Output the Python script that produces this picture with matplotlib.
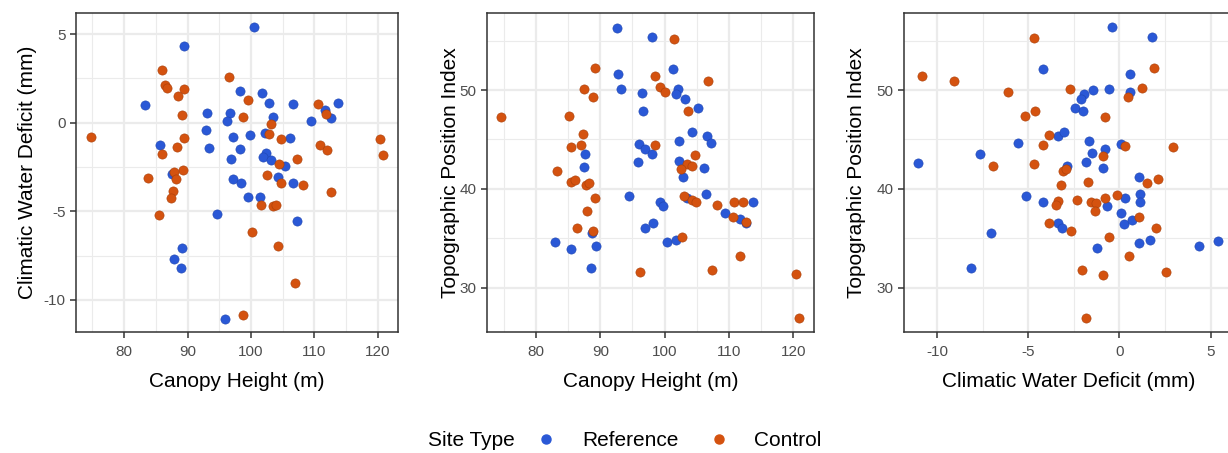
#!/usr/bin/env python3
"""
Site covariates: canopy height, climatic water deficit and topographic
position index for reference vs. control sites (three pairwise scatters).
"""

import matplotlib.pyplot as plt
from matplotlib.lines import Line2D
from matplotlib.ticker import MultipleLocator

plt.rcParams["font.family"] = ["Liberation Sans", "DejaVu Sans"]
plt.rcParams["axes.unicode_minus"] = False

REF_COLOR = "#2A58D6"
CTRL_COLOR = "#D4520F"

# Canopy height (m) vs climatic water deficit (mm)
ref_height_a = [89.4, 83.3, 85.6, 93.0, 92.85, 93.4, 89.1, 87.9, 89.0, 87.5,
                100.5, 98.2, 101.8, 102.85, 106.6, 113.8, 96.7, 96.2, 103.5, 111.7,
                112.6, 109.4, 97.2, 99.9, 102.2, 106.1, 98.2, 96.8, 102.4, 101.9,
                103.2, 105.4, 97.2, 98.4, 104.3, 106.7, 99.5, 101.45, 94.7, 107.2, 95.96]
ref_cwd_a = [4.33, 1.02, -1.24, 0.56, -0.43, -1.45, -7.09, -7.67, -8.18, -2.9,
             5.4, 1.79, 1.68, 1.09, 1.07, 1.13, 0.56, 0.08, 0.32, 0.7,
             0.25, 0.08, -0.82, -0.71, -0.58, -0.86, -1.5, -2.03, -1.69, -1.95,
             -2.12, -2.44, -3.19, -3.4, -3.04, -3.4, -4.19, -4.17, -5.17, -5.54, -11.09]
ctrl_height_a = [74.8, 85.9, 86.4, 86.8, 89.5, 88.5, 89.2, 89.5, 88.3, 85.95,
                 83.7, 89.3, 87.9, 88.2, 87.7, 87.35, 85.5,
                 96.5, 99.5, 98.7, 110.5, 111.8, 103.2, 102.85, 104.8, 110.9,
                 112.0, 120.3, 120.8, 107.3, 104.35, 102.6, 104.8, 108.2, 112.6,
                 101.55, 103.5, 104.0, 100.2, 104.25, 106.9, 98.7]
ctrl_cwd_a = [-0.81, 2.97, 2.13, 1.98, 1.88, 1.49, 0.45, -0.84, -1.37, -1.75,
              -3.1, -2.67, -2.76, -3.19, -3.85, -4.23, -5.21,
              2.58, 1.26, 0.32, 1.05, 0.5, -0.05, -0.62, -0.94, -1.26,
              -1.56, -0.9, -1.84, -2.03, -2.35, -2.95, -3.38, -3.5, -3.91,
              -4.66, -4.68, -4.64, -6.15, -6.94, -9.08, -10.88]

# Canopy height (m) vs topographic position index
ref_height_b = [87.7, 87.5, 82.9, 85.4, 88.7, 89.3, 88.6,
                92.65, 98.0, 92.8, 101.35, 93.2, 96.5, 96.6, 102.1, 101.75, 103.1,
                105.2, 104.2, 106.5, 107.2, 102.2, 96.0, 97.0, 98.0, 95.8, 102.3,
                106.05, 102.8, 94.5, 106.4, 103.4, 99.2, 99.7, 109.3, 111.75, 113.8,
                112.6, 98.2, 97.0, 100.3, 101.75]
ref_tpi_b = [43.5, 42.2, 34.6, 33.9, 35.5, 34.2, 32.0,
             56.3, 55.4, 51.6, 52.1, 50.06, 49.7, 47.9, 50.1, 49.56, 49.1,
             48.15, 45.8, 45.3, 44.6, 44.8, 44.55, 43.98, 43.5, 42.7, 42.8,
             42.06, 41.2, 39.24, 39.5, 39.1, 38.7, 38.27, 37.5, 36.9, 38.64,
             36.55, 36.5, 35.99, 34.64, 34.84]
ctrl_height_b = [74.5, 89.2, 87.5, 88.9, 85.1, 87.3, 87.0, 85.45, 83.3, 85.5,
                 86.0, 87.8, 88.2, 89.2, 87.9, 86.4, 88.9,
                 101.45, 98.55, 106.8, 99.3, 100.05, 103.7, 98.55, 104.65, 103.4,
                 104.25, 102.6, 103.0, 104.25, 104.8, 108.1, 110.8, 112.1, 110.55,
                 112.6, 102.75, 111.75, 96.2, 107.3, 120.4, 120.9]
ctrl_tpi_b = [47.3, 52.2, 50.1, 49.3, 47.4, 45.5, 44.45, 44.2, 41.8, 40.7,
              40.9, 40.4, 40.6, 39.1, 37.8, 36.05, 35.75,
              55.2, 51.44, 50.9, 50.27, 49.8, 47.85, 44.4, 43.4, 42.5,
              42.3, 42.0, 39.3, 38.9, 38.7, 38.34, 38.64, 38.7, 37.1,
              36.6, 35.1, 33.2, 31.6, 31.75, 31.35, 26.9]

# Climatic water deficit (mm) vs topographic position index
ref_cwd_c = [-11.04, -7.64, -5.58, -7.05, -8.17,
             -0.4, 1.8, -4.18, 0.55, -0.6, -1.43, -1.94, -2.12, 0.59, -2.43,
             -2.0, -3.35, -3.04, -1.68, -0.8, 0.06, -1.52, -1.81, -2.89, -0.88,
             1.08, -5.14, -4.18, 0.33, 1.1, 1.14, -0.69, 0.08, 0.27, 0.68,
             -3.38, -3.16, -1.22, 1.05, 1.69, 4.34, 5.39]
ref_tpi_c = [42.64, 43.5, 44.6, 35.5, 31.96,
             56.4, 55.4, 52.1, 51.6, 50.1, 50.0, 49.6, 49.1, 49.76, 48.15,
             47.9, 45.3, 45.8, 44.8, 44.05, 44.55, 43.6, 42.7, 42.27, 42.07,
             41.2, 39.24, 38.67, 39.04, 39.5, 38.64, 38.27, 37.5, 36.42, 36.8,
             36.55, 36.0, 33.97, 34.54, 34.8, 34.2, 34.7]
ctrl_cwd_c = [-10.84, -9.07, -6.13, -6.92,
              -4.67, 1.87, -2.73, 1.26, 0.48, -4.62, -5.2, -0.79, -3.85, -4.19,
              0.33, 2.93, -0.91, -4.67, -3.08, -2.95, -1.74, 1.5, 2.14, -3.2,
              -0.11, -0.8, -2.32, -1.55, -1.28, -3.35, -3.48, -1.37, 1.07, -3.88,
              -2.67, 1.98, -0.6, 0.52, -2.03, -0.91, 2.57, -1.83]
ctrl_tpi_c = [51.44, 50.87, 49.76, 42.3,
              55.24, 52.2, 50.1, 50.23, 49.3, 47.88, 47.4, 47.28, 45.46, 44.42,
              44.35, 44.2, 43.35, 42.54, 41.8, 42.0, 40.73, 40.62, 40.96, 40.4,
              39.34, 39.1, 38.87, 38.7, 38.6, 38.77, 38.37, 37.76, 37.1, 36.55,
              35.75, 36.05, 35.08, 33.2, 31.75, 31.31, 31.58, 26.9]

HEIGHT_LIM = (72.4, 123.2)
CWD_LIM = (-11.82, 6.2)
TPI_LIM = (25.5, 57.8)


def style_axes(ax, xmajor, ymajor):
    """theme_bw-like look: light grid, dark border, outward ticks."""
    ax.set_facecolor("white")
    ax.xaxis.set_major_locator(MultipleLocator(xmajor))
    ax.xaxis.set_minor_locator(MultipleLocator(xmajor / 2))
    ax.yaxis.set_major_locator(MultipleLocator(ymajor))
    ax.yaxis.set_minor_locator(MultipleLocator(ymajor / 2))
    ax.grid(which="major", color="#EBEBEB", lw=1.6, zorder=0)
    ax.grid(which="minor", color="#EBEBEB", lw=0.8, zorder=0)
    ax.set_axisbelow(True)
    for sp in ax.spines.values():
        sp.set_color("#333333")
        sp.set_linewidth(1.1)
    ax.tick_params(which="major", direction="out", length=4.5, width=1.1,
                   color="#333333", labelcolor="#4D4D4D", labelsize=11, pad=3)
    ax.tick_params(axis="x", which="major", pad=5)
    ax.tick_params(which="minor", length=0)


def scatter_pair(ax, ref_x, ref_y, ctrl_x, ctrl_y):
    kw = dict(s=44, linewidths=0.4, zorder=3)
    ax.scatter(ref_x, ref_y, color=REF_COLOR, edgecolors="#1E45B0", **kw)
    ax.scatter(ctrl_x, ctrl_y, color=CTRL_COLOR, edgecolors="#A83E08", **kw)


def main() -> None:
    fig = plt.figure(figsize=(12.28, 4.53), dpi=100)
    W, H = 1228.0, 453.0

    def axes_px(left, right, top, bottom):
        return fig.add_axes([left / W, 1 - bottom / H, (right - left) / W, (bottom - top) / H])

    ax1 = axes_px(76, 398, 13, 332)
    ax2 = axes_px(487, 814, 13, 332)
    ax3 = axes_px(904, 1232.5, 13, 332)

    label_kw = dict(fontsize=15, color="black")

    scatter_pair(ax1, ref_height_a, ref_cwd_a, ctrl_height_a, ctrl_cwd_a)
    style_axes(ax1, 10, 5)
    ax1.set_xlim(*HEIGHT_LIM)
    ax1.set_ylim(*CWD_LIM)
    ax1.set_xlabel("Canopy Height (m)", labelpad=9, **label_kw)
    ax1.set_ylabel("Climatic Water Deficit (mm)", labelpad=5, **label_kw)

    scatter_pair(ax2, ref_height_b, ref_tpi_b, ctrl_height_b, ctrl_tpi_b)
    style_axes(ax2, 10, 10)
    ax2.set_xlim(*HEIGHT_LIM)
    ax2.set_ylim(*TPI_LIM)
    ax2.set_xlabel("Canopy Height (m)", labelpad=9, **label_kw)
    ax2.set_ylabel("Topographic Position Index", labelpad=0, **label_kw)

    scatter_pair(ax3, ref_cwd_c, ref_tpi_c, ctrl_cwd_c, ctrl_tpi_c)
    style_axes(ax3, 5, 10)
    ax3.set_xlim(*CWD_LIM)
    ax3.set_ylim(*TPI_LIM)
    ax3.set_xlabel("Climatic Water Deficit (mm)", labelpad=9, **label_kw)
    ax3.set_ylabel("Topographic Position Index", labelpad=7.5, **label_kw)

    # shared legend along the bottom
    fig.text(428 / W, 1 - 441 / H, "Site Type", fontsize=15, va="center", ha="left")
    handles = [
        Line2D([], [], marker="o", ls="none", color=REF_COLOR, markersize=6.5),
        Line2D([], [], marker="o", ls="none", color=CTRL_COLOR, markersize=6.5),
    ]
    fig.legend(handles, ["Reference", "Control"], loc="center left",
               bbox_to_anchor=(536 / W, 1 - 441 / H), ncol=2, frameon=False,
               fontsize=15, handletextpad=1.2, columnspacing=1.45,
               handlelength=1.0, borderpad=0, borderaxespad=0)

    fig.savefig("out.png", dpi=100)
    plt.close(fig)


if __name__ == "__main__":
    main()
